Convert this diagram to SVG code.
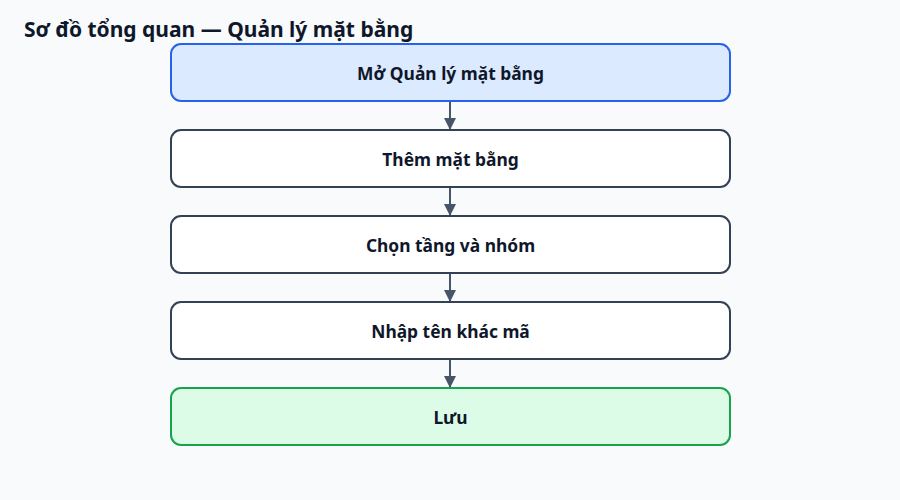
<svg xmlns="http://www.w3.org/2000/svg" width="900" height="500" viewBox="0 0 900 500">
<style>
.bg{fill:#f8fafc}
.box{fill:#ffffff;stroke:#334155;stroke-width:2}
.start{fill:#dbeafe;stroke:#2563eb;stroke-width:2}
.end{fill:#dcfce7;stroke:#16a34a;stroke-width:2}
.lbl{font-family:"Noto Sans","Open Sans",sans-serif;font-size:17.4px;font-weight:700;fill:#0f172a;text-anchor:middle;dominant-baseline:central}
.title{font-family:"Noto Sans","Open Sans",sans-serif;font-size:21px;font-weight:700;fill:#0f172a}
.edge{stroke:#475569;stroke-width:2;fill:none}
</style>
<defs>
<marker id="arr" viewBox="0 0 10 10" refX="10" refY="5" markerWidth="6" markerHeight="6" markerUnits="strokeWidth" orient="auto">
<path d="M0,0 L10,5 L0,10 z" fill="#475569"/>
</marker>
</defs>
<rect class="bg" x="0" y="0" width="900" height="500"/>
<text class="title" x="24" y="37">Sơ đồ tổng quan — Quản lý mặt bằng</text>
<g id="connectors">
<line class="edge" x1="450" y1="101" x2="450" y2="130" marker-end="url(#arr)"/>
<line class="edge" x1="450" y1="187" x2="450" y2="216" marker-end="url(#arr)"/>
<line class="edge" x1="450" y1="273" x2="450" y2="302" marker-end="url(#arr)"/>
<line class="edge" x1="450" y1="359" x2="450" y2="388" marker-end="url(#arr)"/>
</g>
<g id="n1"><rect class="start" x="171" y="44" width="559" height="57" rx="10"/><text class="lbl" x="450.5" y="73">Mở Quản lý mặt bằng</text></g>
<g id="n2"><rect class="box" x="171" y="130" width="559" height="57" rx="10"/><text class="lbl" x="450.5" y="159">Thêm mặt bằng</text></g>
<g id="n3"><rect class="box" x="171" y="216" width="559" height="57" rx="10"/><text class="lbl" x="450.5" y="245">Chọn tầng và nhóm</text></g>
<g id="n4"><rect class="box" x="171" y="302" width="559" height="57" rx="10"/><text class="lbl" x="450.5" y="331">Nhập tên khác mã</text></g>
<g id="n5"><rect class="end" x="171" y="388" width="559" height="57" rx="10"/><text class="lbl" x="450.5" y="417">Lưu</text></g>
</svg>
